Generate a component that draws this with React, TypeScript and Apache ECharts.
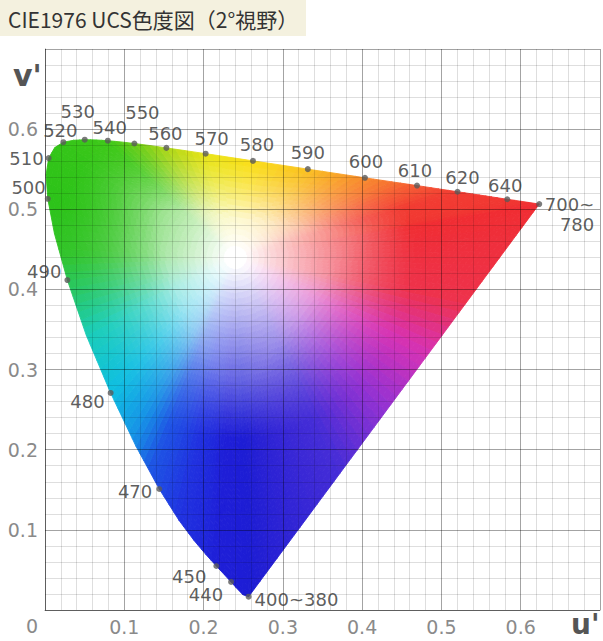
import React, { useEffect, useRef } from "react";
import * as echarts from "echarts";

// ---- data (CIE 1976 u'v' spectral locus, read to match the reference) ----
const TITLE = "CIE1976 UCS色度図（2°視野）";
const X_NAME = "u'";
const Y_NAME = "v'";
const ORIGIN_LABEL = "0";

const LOCUS_NM = [380, 400, 410, 420, 425, 430, 435, 440, 445, 450, 455, 460, 465, 470, 475, 480, 485, 490, 495, 500, 505, 510, 515, 520, 525, 530, 535, 540, 545, 550, 555, 560, 565, 570, 575, 580, 585, 590, 595, 600, 605, 610, 615, 620, 625, 630, 635, 640, 645, 650, 660, 670, 680, 700];
const LOCUS_U = [0.2568, 0.2557, 0.2545, 0.2522, 0.2496, 0.2461, 0.2411, 0.2347, 0.2266, 0.2161, 0.2033, 0.1877, 0.169, 0.1441, 0.1147, 0.0828, 0.0521, 0.0282, 0.0119, 0.0035, 0.0014, 0.0046, 0.0123, 0.0231, 0.036, 0.0501, 0.0643, 0.0792, 0.0953, 0.1127, 0.1319, 0.1531, 0.1766, 0.2026, 0.2312, 0.2623, 0.296, 0.3315, 0.3681, 0.4035, 0.4379, 0.4692, 0.4968, 0.5203, 0.5399, 0.5565, 0.5709, 0.583, 0.5929, 0.6005, 0.6109, 0.6162, 0.6199, 0.6234];
const LOCUS_V = [0.0166, 0.0159, 0.0159, 0.0169, 0.0191, 0.0226, 0.0279, 0.035, 0.0437, 0.0549, 0.0688, 0.0871, 0.1119, 0.151, 0.2044, 0.2708, 0.3427, 0.4117, 0.4698, 0.5131, 0.5432, 0.5638, 0.577, 0.5837, 0.5861, 0.5868, 0.5865, 0.5856, 0.5841, 0.5821, 0.5796, 0.5766, 0.5732, 0.5694, 0.5651, 0.5604, 0.5554, 0.5501, 0.5446, 0.5393, 0.5342, 0.5296, 0.5254, 0.5219, 0.519, 0.5165, 0.5143, 0.5125, 0.5111, 0.5099, 0.5084, 0.5076, 0.507, 0.5065];

const MARK_LABELS = ["400~380", "440", "450", "470", "480", "490", "500", "510", "520", "530", "540", "550", "560", "570", "580", "590", "600", "610", "620", "640", "700~\n780"];
const MARK_U = [0.2568, 0.2347, 0.2161, 0.1441, 0.0828, 0.0282, 0.0035, 0.0046, 0.0231, 0.0501, 0.0792, 0.1127, 0.1531, 0.2026, 0.2623, 0.3315, 0.4035, 0.4692, 0.5203, 0.583, 0.6234];
const MARK_V = [0.0166, 0.035, 0.0549, 0.151, 0.2708, 0.4117, 0.5131, 0.5638, 0.5837, 0.5868, 0.5856, 0.5821, 0.5766, 0.5694, 0.5604, 0.5501, 0.5393, 0.5296, 0.5219, 0.5125, 0.5065];

// centre of the white area of the fill
const WHITE_U = 0.24;
const WHITE_V = 0.44;

// ---- colour styling of the fill (edge colours, by wavelength / along the purple line) ----
const LOCUS_COLORS: [number, number[]][] = [
  [380, [28, 28, 212]],
  [450, [30, 30, 215]],
  [465, [32, 50, 225]],
  [472, [30, 82, 228]],
  [476, [22, 150, 230]],
  [480, [15, 190, 226]],
  [485, [25, 205, 185]],
  [489, [40, 200, 100]],
  [493, [50, 196, 40]],
  [500, [45, 195, 25]],
  [540, [62, 200, 25]],
  [550, [105, 205, 25]],
  [560, [172, 215, 25]],
  [570, [232, 228, 22]],
  [580, [250, 222, 22]],
  [590, [250, 192, 32]],
  [600, [248, 140, 45]],
  [610, [245, 90, 52]],
  [620, [242, 60, 50]],
  [700, [240, 45, 50]],
];
const PURPLE_COLORS: [number, number[]][] = [
  [0, [240, 45, 50]],
  [0.25, [238, 50, 75]],
  [0.38, [215, 50, 180]],
  [0.52, [150, 50, 210]],
  [0.68, [70, 45, 215]],
  [1, [28, 28, 212]],
];

// ---- label placement (style only) ----
const LABEL_LAYOUT: [string, number, number, string][] = [
  ["left", 6, 3, "middle"],
  ["right", -8, 13, "middle"],
  ["right", -10, 10, "middle"],
  ["right", -7, 3, "middle"],
  ["right", -6, 9, "middle"],
  ["right", -6, -9, "middle"],
  ["right", -2, -11, "middle"],
  ["right", -5, 0, "middle"],
  ["center", -3, -12, "middle"],
  ["center", -7, -28, "middle"],
  ["center", 2, -13, "middle"],
  ["center", 8, -31, "middle"],
  ["center", -1, -14, "middle"],
  ["center", 6, -15, "middle"],
  ["center", 4, -16, "middle"],
  ["center", 0, -17, "middle"],
  ["center", 1, -16, "middle"],
  ["center", -2, -15, "middle"],
  ["center", 5, -14, "middle"],
  ["center", -2, -14, "middle"],
  ["right", 55, -10, "top"],
];

function lerpStops(stops: [number, number[]][], x: number): number[] {
  if (x <= stops[0][0]) return stops[0][1];
  for (let i = 0; i < stops.length - 1; i++) {
    const [x0, c0] = stops[i];
    const [x1, c1] = stops[i + 1];
    if (x <= x1) {
      const t = (x - x0) / (x1 - x0);
      return [0, 1, 2].map((k) => c0[k] + (c1[k] - c0[k]) * t);
    }
  }
  return stops[stops.length - 1][1];
}

type BPt = { p: number[]; c: number[]; corner: boolean };

function buildBoundary(): BPt[] {
  const raw: BPt[] = [];
  const n = LOCUS_U.length;
  const step = 0.012;
  for (let i = 0; i < n - 1; i++) {
    const a = [LOCUS_U[i], LOCUS_V[i]];
    const b = [LOCUS_U[i + 1], LOCUS_V[i + 1]];
    const len = Math.hypot(b[0] - a[0], b[1] - a[1]);
    const k = Math.max(1, Math.ceil(len / step));
    for (let s = 0; s < k; s++) {
      const t = s / k;
      const wl = LOCUS_NM[i] + (LOCUS_NM[i + 1] - LOCUS_NM[i]) * t;
      raw.push({
        p: [a[0] + (b[0] - a[0]) * t, a[1] + (b[1] - a[1]) * t],
        c: lerpStops(LOCUS_COLORS, wl),
        corner: i === 0 && s === 0,
      });
    }
  }
  const a = [LOCUS_U[n - 1], LOCUS_V[n - 1]];
  const b = [LOCUS_U[0], LOCUS_V[0]];
  const len = Math.hypot(b[0] - a[0], b[1] - a[1]);
  const k = Math.max(1, Math.ceil(len / step));
  for (let s = 0; s < k; s++) {
    const t = s / k;
    raw.push({
      p: [a[0] + (b[0] - a[0]) * t, a[1] + (b[1] - a[1]) * t],
      c: lerpStops(PURPLE_COLORS, t),
      corner: s === 0,
    });
  }
  // drop points that sit too close together (avoids hairline slivers in the fan)
  const out: BPt[] = [];
  const minGap = 0.007;
  for (const q of raw) {
    if (out.length === 0) {
      out.push(q);
      continue;
    }
    const last = out[out.length - 1];
    const d = Math.hypot(q.p[0] - last.p[0], q.p[1] - last.p[1]);
    if (d >= minGap) out.push(q);
    else if (q.corner && !last.corner) out[out.length - 1] = q;
  }
  return out;
}

// how strongly the edge colour shows at relative position t and distance d from the white centre
function saturation(t: number, d: number): number {
  const fa = Math.pow(Math.min(1, Math.max(0, (d - 0.012) / 0.215)), 0.9);
  const g = Math.pow(Math.min(1, Math.max(0, (t - 0.4) / 0.6)), 1.1);
  return 1 - (1 - fa) * (1 - g);
}

export default function App() {
  const ref = useRef<HTMLDivElement>(null);
  useEffect(() => {
    if (!ref.current) return;
    const chart = echarts.init(ref.current, null, { renderer: "svg" });
    const boundary = buildBoundary();

    const markData = MARK_LABELS.map((name, i) => {
      const [align, dx, dy, va] = LABEL_LAYOUT[i];
      return {
        name,
        value: [MARK_U[i], MARK_V[i]],
        label: { align, verticalAlign: va, offset: [dx, dy] },
      };
    });

    const axisLabelStyle = {
      color: "#8a8a8a",
      fontSize: 19,
      fontFamily: "DejaVu Sans",
      margin: 7,
    };
    const tickFmt = (v: number) => (v > 0.05 && v < 0.65 ? v.toFixed(1) : "");

    const option: any = {
      animation: false,
      backgroundColor: "#ffffff",
      grid: { left: 45, top: 49, width: 563, height: 561, containLabel: false },
      xAxis: {
        type: "value",
        min: 0,
        max: 0.7,
        interval: 0.1,
        z: 5,
        axisLine: { show: true, lineStyle: { color: "rgba(0,0,0,0.42)", width: 1 } },
        axisTick: { show: false },
        axisLabel: { ...axisLabelStyle, formatter: tickFmt },
        splitLine: { show: true, lineStyle: { color: "rgba(0,0,0,0.36)", width: 1 } },
        minorTick: { show: false, splitNumber: 5 },
        minorSplitLine: { show: true, lineStyle: { color: "rgba(0,0,0,0.13)", width: 1 } },
      },
      yAxis: {
        type: "value",
        min: 0,
        max: 0.7,
        interval: 0.1,
        z: 5,
        axisLine: { show: true, lineStyle: { color: "rgba(0,0,0,0.42)", width: 1 } },
        axisTick: { show: false },
        axisLabel: { ...axisLabelStyle, formatter: tickFmt },
        splitLine: { show: true, lineStyle: { color: "rgba(0,0,0,0.36)", width: 1 } },
        minorTick: { show: false, splitNumber: 5 },
        minorSplitLine: { show: true, lineStyle: { color: "rgba(0,0,0,0.13)", width: 1 } },
      },
      graphic: [
        { type: "rect", left: 0, top: 0, shape: { width: 306, height: 36 }, style: { fill: "#f4f1df" } },
        {
          type: "text",
          x: 8,
          y: 19,
          style: { text: TITLE, fill: "#333", font: '21px "Noto Sans CJK JP"', verticalAlign: "middle" },
        },
        {
          type: "text",
          x: 13,
          y: 75,
          style: { text: Y_NAME, fill: "#555", font: 'bold 30px "DejaVu Sans"', verticalAlign: "middle" },
        },
        {
          type: "text",
          x: 571,
          y: 624,
          style: { text: X_NAME, fill: "#555", font: 'bold 28px "DejaVu Sans"', verticalAlign: "middle" },
        },
        {
          type: "text",
          x: 32,
          y: 626,
          style: {
            text: ORIGIN_LABEL,
            fill: "#8a8a8a",
            font: '19px "DejaVu Sans"',
            align: "center",
            verticalAlign: "middle",
          },
        },
      ],
      series: [
        {
          type: "custom",
          z: 2,
          silent: true,
          data: [[WHITE_U, WHITE_V]],
          renderItem: (params: any, api: any) => {
            const children: any[] = [];
            const W = [WHITE_U, WHITE_V];
            const nb = boundary.length;
            const p = (P: number[], t: number) => [W[0] + (P[0] - W[0]) * t, W[1] + (P[1] - W[1]) * t];
            for (let e = 0; e < nb; e++) {
              const A = boundary[e];
              const B = boundary[(e + 1) % nb];
              const cb = [0, 1, 2].map((k) => (A.c[k] + B.c[k]) / 2);
              const mid = [(A.p[0] + B.p[0]) / 2, (A.p[1] + B.p[1]) / 2];
              const dist = Math.hypot(mid[0] - W[0], mid[1] - W[1]);
              const bands = Math.max(14, Math.ceil(dist / 0.0075));
              for (let j = 0; j < bands; j++) {
                const t0 = j / bands;
                const t1 = (j + 1) / bands;
                const a0 = p(A.p, t0), a1 = p(A.p, t1), b1 = p(B.p, t1), b0 = p(B.p, t0);
                const tm = (t0 + t1) / 2;
                const f = saturation(tm, tm * dist);
                const rgb = cb.map((c) => Math.round(255 * (1 - f) + c * f));
                const col = `rgb(${rgb[0]},${rgb[1]},${rgb[2]})`;
                const pts =
                  j === 0
                    ? [api.coord(a0), api.coord(a1), api.coord(b1)]
                    : [api.coord(a0), api.coord(a1), api.coord(b1), api.coord(b0)];
                children.push({
                  type: "polygon",
                  shape: { points: pts },
                  style: { fill: col, stroke: col, lineWidth: 0.9 },
                });
              }
            }
            return { type: "group", children };
          },
        },
        {
          type: "scatter",
          z: 10,
          symbol: "circle",
          symbolSize: 6,
          itemStyle: { color: "#5a5a5a" },
          data: markData,
          label: {
            show: true,
            position: "inside",
            formatter: "{b}",
            color: "#333",
            fontSize: 18,
            fontFamily: "DejaVu Sans",
            lineHeight: 20,
            textBorderWidth: 0,
          },
          emphasis: { disabled: true },
        },
      ],
    };
    chart.setOption(option);
    return () => chart.dispose();
  }, []);
  return (
    <div
      ref={ref}
      style={{ position: "absolute", left: 0, top: 0, width: 603, height: 641, background: "#fff" }}
    />
  );
}
